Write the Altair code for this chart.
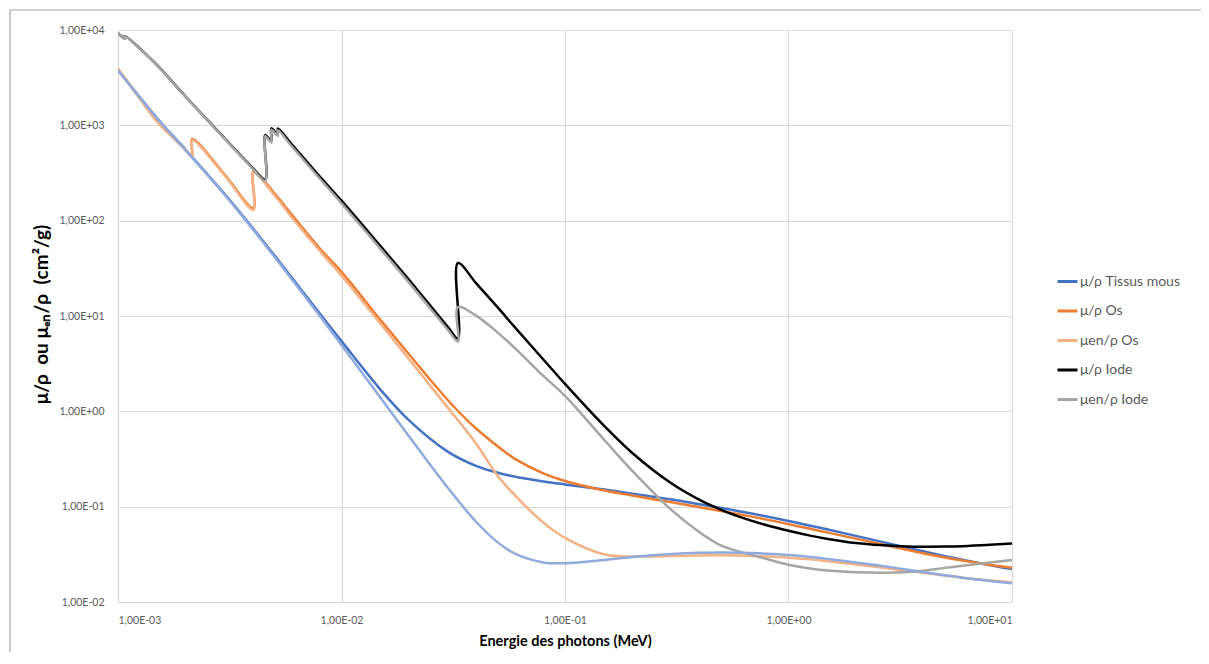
import altair as alt
import pandas as pd

# ---- data (energies in MeV, coefficients in cm2/g) ----
E_TISSU = [0.001, 0.0015, 0.002, 0.003, 0.004, 0.005, 0.006, 0.008, 0.01, 0.015, 0.02,
           0.03, 0.04, 0.05, 0.06, 0.08, 0.1, 0.15, 0.2, 0.3, 0.4, 0.5, 0.6, 0.8, 1.0,
           1.25, 1.5, 2.0, 3.0, 4.0, 5.0, 6.0, 8.0, 10.0]
MU_TISSU = [3800, 1180, 560, 190, 84, 43.5, 25.2, 10.6, 5.45, 1.67, 0.81, 0.376, 0.268,
            0.227, 0.206, 0.184, 0.171, 0.151, 0.137, 0.119, 0.106, 0.0969, 0.0896,
            0.0787, 0.0707, 0.0632, 0.0575, 0.0494, 0.0397, 0.0340, 0.0303, 0.0277,
            0.0243, 0.0222]
MUEN_TISSU = [3790, 1175, 555, 187, 82, 42, 24.2, 10.0, 4.95, 1.37, 0.55, 0.156, 0.0695,
              0.0422, 0.0319, 0.0260, 0.0255, 0.0276, 0.0297, 0.0319, 0.0328, 0.0330,
              0.0329, 0.0321, 0.0311, 0.0297, 0.0283, 0.0260, 0.0228, 0.0206, 0.0191,
              0.0180, 0.0166, 0.0157]

E_OS = [0.001, 0.0013, 0.0015, 0.002, 0.0021455, 0.0021455, 0.003, 0.0040381, 0.0040381,
        0.005, 0.006, 0.008, 0.01, 0.015, 0.02, 0.03, 0.04, 0.05, 0.06, 0.08, 0.1, 0.15,
        0.2, 0.3, 0.4, 0.5, 0.6, 0.8, 1.0, 1.25, 1.5, 2.0, 3.0, 4.0, 5.0, 6.0, 8.0, 10.0]
MU_OS = [3900, 1700, 1090, 560, 470, 720, 305, 135, 330, 195, 115, 51, 29, 9.0, 4.0, 1.3,
         0.66, 0.43, 0.315, 0.223, 0.186, 0.148, 0.131, 0.111, 0.0987, 0.0899, 0.0833,
         0.0731, 0.0656, 0.0586, 0.0534, 0.0462, 0.0376, 0.0325, 0.0293, 0.0272, 0.0245,
         0.0228]
MUEN_OS = [3890, 1690, 1085, 556, 466, 700, 298, 130, 320, 186, 108, 48, 26.5, 8.2, 3.55,
           1.08, 0.46, 0.21, 0.13, 0.068, 0.047, 0.0315, 0.0300, 0.0303, 0.0308, 0.0309,
           0.0307, 0.0300, 0.0292, 0.0280, 0.0268, 0.0248, 0.0221, 0.0203, 0.0190, 0.0180,
           0.0168, 0.0161]

E_IODE = [0.001, 0.0010721, 0.0010721, 0.0013, 0.0015, 0.002, 0.003, 0.004, 0.004557,
          0.004557, 0.004852, 0.004852, 0.005188, 0.005188, 0.006, 0.008, 0.01, 0.015,
          0.02, 0.03, 0.033169, 0.033169, 0.04, 0.05, 0.06, 0.08, 0.1, 0.15, 0.2, 0.3,
          0.4, 0.5, 0.6, 0.8, 1.0, 1.25, 1.5, 2.0, 3.0, 4.0, 5.0, 6.0, 8.0, 10.0]
MU_IODE = [9300, 8100, 8600, 5900, 4250, 2020, 730, 358, 270, 790, 680, 930, 800, 925, 630,
           290, 162, 53.4, 24.1, 7.6, 5.8, 36, 22.1, 12.3, 7.5, 3.5, 1.94, 0.70, 0.366,
           0.175, 0.118, 0.0927, 0.0787, 0.0638, 0.0558, 0.0497, 0.0459, 0.0416, 0.0387,
           0.0380, 0.0381, 0.0385, 0.0398, 0.0411]
MUEN_IODE = [9280, 8080, 8580, 5890, 4240, 2010, 725, 352, 262, 770, 660, 900, 775, 890,
             600, 275, 152, 50, 22.5, 7.1, 5.4, 12.4, 10.1, 6.7, 4.55, 2.35, 1.45, 0.50,
             0.238, 0.092, 0.0540, 0.0390, 0.0340, 0.0282, 0.0246, 0.0225, 0.0214, 0.0205,
             0.0204, 0.0213, 0.0228, 0.0240, 0.0260, 0.0276]

LEGEND_SERIES = ["μ/ρ Tissus mous", "μ/ρ Os", "μen/ρ Os", "μ/ρ Iode", "μen/ρ Iode"]
LEGEND_COLORS = ["#4472C4", "#ED7D31", "#F4B183", "#000000", "#A5A5A5"]
EXTRA_SERIES = "μen/ρ Tissus mous"
EXTRA_COLOR = "#8FAADC"

X_TICKS = [0.001, 0.01, 0.1, 1, 10]
Y_TICKS = [0.01, 0.1, 1, 10, 100, 1000, 10000]

Y_TITLE = "μ/ρ\u00a0\u00a0ou\u00a0μₑₙ/ρ\u00a0\u00a0(cm²/g)"
X_TITLE = "Energie des photons (MeV)"

series_data = {
    "μ/ρ Tissus mous": (E_TISSU, MU_TISSU),
    "μ/ρ Os": (E_OS, MU_OS),
    "μen/ρ Os": (E_OS, MUEN_OS),
    "μ/ρ Iode": (E_IODE, MU_IODE),
    "μen/ρ Iode": (E_IODE, MUEN_IODE),
    EXTRA_SERIES: (E_TISSU, MUEN_TISSU),
}
rows = []
for name, (es, vs) in series_data.items():
    for i, (e, v) in enumerate(zip(es, vs)):
        rows.append({"serie": name, "E": e, "v": v, "i": i})
df = pd.DataFrame(rows)

label_expr = ("'1,00E' + (round(log(datum.value)/LN10) < 0 ? '-' : '+') + "
              "(abs(round(log(datum.value)/LN10)) < 10 ? '0' : '') + "
              "abs(round(log(datum.value)/LN10))")

x_enc = alt.X("E:Q", scale=alt.Scale(type="log", domain=[0.001, 10], nice=False),
              axis=alt.Axis(values=X_TICKS, labelExpr=label_expr,
                            title=X_TITLE, titlePadding=9, labelPadding=13,
                            titleFontSize=14.5))
y_enc = alt.Y("v:Q", scale=alt.Scale(type="log", domain=[0.01, 10000], nice=False),
              axis=alt.Axis(values=Y_TICKS, labelExpr=label_expr,
                            title=Y_TITLE, titleX=-77, titleY=284, titleAngle=270,
                            titleAlign="center", titleBaseline="middle",
                            labelPadding=14, titleFontSize=19))
color_enc = alt.Color("serie:N",
                      scale=alt.Scale(domain=LEGEND_SERIES, range=LEGEND_COLORS),
                      legend=alt.Legend(title=None, orient="none", legendX=938,
                                        legendY=240, symbolType="stroke",
                                        symbolSize=400, symbolStrokeWidth=3,
                                        labelFontSize=14, labelFont="Lato",
                                        labelColor="#595959", labelOffset=1,
                                        rowPadding=10.5))

base = alt.Chart(df)
layers = []
for name in LEGEND_SERIES + [EXTRA_SERIES]:
    c = base.transform_filter(alt.datum.serie == name).mark_line(
        strokeWidth=2.5, interpolate="catmull-rom", clip=True)
    if name == EXTRA_SERIES:
        c = c.encode(x=x_enc, y=y_enc, order="i:Q", color=alt.value(EXTRA_COLOR))
    else:
        c = c.encode(x=x_enc, y=y_enc, order="i:Q", color=color_enc)
    layers.append(c)

frame = alt.Chart(pd.DataFrame({"a": [0]})).mark_rect(
    filled=False, stroke="#A6A6A6", strokeWidth=1.2).encode(
    x=alt.value(-108), x2=alt.value(1300), y=alt.value(-20), y2=alt.value(800))

chart = alt.layer(frame, *layers).properties(
    width=894, height=572,
    padding={"left": 110, "top": 22, "right": 189, "bottom": 50},
    autosize=alt.AutoSizeParams(type="none"),
).configure_view(stroke=None).configure_axis(
    grid=True, gridColor="#D9D9D9", gridWidth=1.2,
    domainColor="#D9D9D9", domainWidth=1.2,
    ticks=False, tickSize=0,
    labelFont="Lato", labelFontSize=10.5, labelColor="#595959",
    titleFont="Lato", titleFontWeight="bold", titleColor="#000000",
)

chart.save("out.html", embed_options={"renderer": "svg", "actions": False})
